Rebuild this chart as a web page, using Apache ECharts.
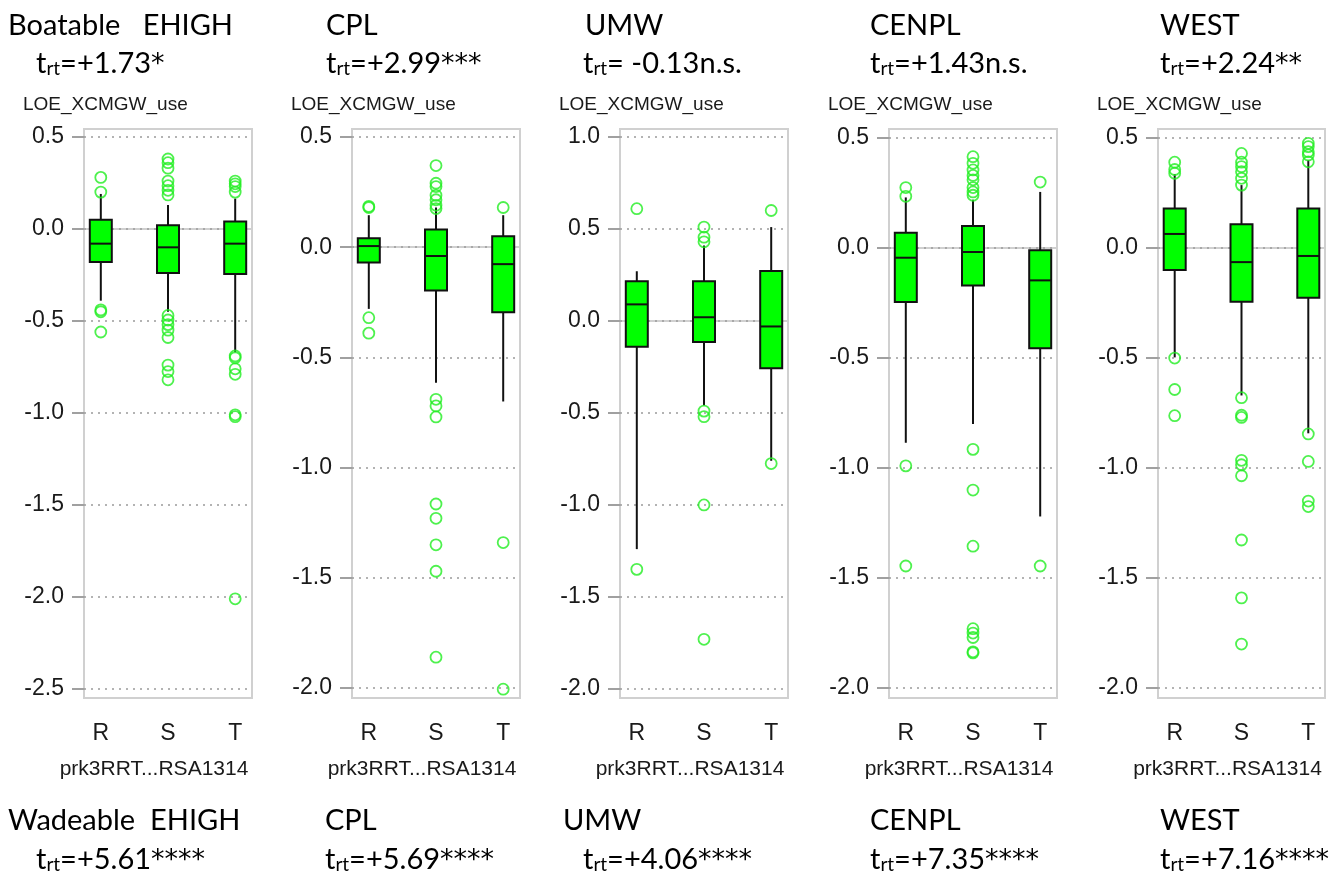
<!DOCTYPE html>
<html><head><meta charset="utf-8">
<script src="https://cdn.jsdelivr.net/npm/echarts@6/dist/echarts.min.js"></script>
<style>html,body{margin:0;padding:0;background:#fff}#c{width:1343px;height:873px}</style>
</head><body><div id="c"></div>
<script>
// ---------------- data ----------------
const categories = ['R', 'S', 'T'];
const panelNames = ['EHIGH', 'CPL', 'UMW', 'CENPL', 'WEST'];
const boatableT = ['=+1.73', '=+2.99', '= -0.13n.s.', '=+1.43n.s.', '=+2.24'];
const boatableStars = ['*', '***', '', '', '**'];
const wadeableT = ['=+5.61', '=+5.69', '=+4.06', '=+7.35', '=+7.16'];
const wadeableStars = ['****', '****', '****', '****', '****'];
const yAxisName = 'LOE_XCMGW_use';
const xAxisName = 'prk3RRT...RSA1314';

// y tick labels per panel
const ticksEHIGH = [0.5, 0, -0.5, -1, -1.5, -2, -2.5];
const ticksCPL = [0.5, 0, -0.5, -1, -1.5, -2];
const ticksUMW = [1, 0.5, 0, -0.5, -1, -1.5, -2];
const ticksCENPL = [0.5, 0, -0.5, -1, -1.5, -2];
const ticksWEST = [0.5, 0, -0.5, -1, -1.5, -2];

// y axis ranges (frame)
const rangeEHIGH = [-2.549, 0.543];
const rangeCPL = [-2.045, 0.536];
const rangeUMW = [-2.049, 1.043];
const rangeCENPL = [-2.045, 0.541];
const rangeWEST = [-2.045, 0.541];

// boxes: [lower whisker, Q1, median, Q3, upper whisker] for R, S, T
const boxEHIGH = [[-0.39, -0.18, -0.08, 0.05, 0.19], [-0.45, -0.24, -0.10, 0.02, 0.13], [-0.67, -0.245, -0.08, 0.04, 0.165]];
const boxCPL = [[-0.28, -0.07, 0.005, 0.04, 0.145], [-0.615, -0.197, -0.04, 0.08, 0.18], [-0.70, -0.295, -0.077, 0.05, 0.145]];
const boxUMW = [[-1.24, -0.14, 0.09, 0.215, 0.27], [-0.46, -0.115, 0.02, 0.215, 0.41], [-0.76, -0.257, -0.03, 0.272, 0.51]];
const boxCENPL = [[-0.885, -0.245, -0.044, 0.07, 0.23], [-0.80, -0.17, -0.018, 0.10, 0.22], [-1.22, -0.455, -0.147, -0.01, 0.255]];
const boxWEST = [[-0.497, -0.10, 0.064, 0.18, 0.336], [-0.67, -0.244, -0.064, 0.108, 0.286], [-0.842, -0.226, -0.036, 0.18, 0.40]];

// outliers for R, S, T
const outEHIGH = [
  [0.28, 0.20, -0.44, -0.45, -0.56],
  [0.38, 0.36, 0.33, 0.26, 0.235, 0.21, 0.185, -0.47, -0.495, -0.52, -0.55, -0.59, -0.74, -0.775, -0.82],
  [0.26, 0.245, 0.23, 0.20, -0.69, -0.70, -0.76, -0.79, -1.01, -1.02, -2.01]
];
const outCPL = [
  [0.185, 0.18, -0.32, -0.39],
  [0.37, 0.29, 0.275, 0.235, 0.215, 0.19, 0.175, -0.69, -0.72, -0.77, -1.165, -1.23, -1.35, -1.47, -1.86],
  [0.18, -1.34, -2.005]
];
const outUMW = [
  [0.61, -1.35],
  [0.51, 0.455, 0.43, -0.49, -0.52, -1.0, -1.73],
  [0.60, -0.775]
];
const outCENPL = [
  [0.275, 0.235, -0.99, -1.445],
  [0.415, 0.385, 0.355, 0.33, 0.31, 0.275, 0.255, 0.24, -0.915, -1.10, -1.355, -1.73, -1.75, -1.77, -1.835, -1.84],
  [0.30, -1.445]
];
const outWEST = [
  [0.39, 0.357, 0.34, -0.50, -0.643, -0.762],
  [0.43, 0.39, 0.37, 0.347, 0.317, 0.286, -0.68, -0.76, -0.77, -0.965, -0.985, -1.035, -1.327, -1.59, -1.80],
  [0.476, 0.461, 0.438, 0.423, 0.392, -0.845, -0.97, -1.15, -1.175]
];

// ---------------- layout ----------------
const panels = [
  {ticks: ticksEHIGH, range: rangeEHIGH, box: boxEHIGH, out: outEHIGH},
  {ticks: ticksCPL, range: rangeCPL, box: boxCPL, out: outCPL},
  {ticks: ticksUMW, range: rangeUMW, box: boxUMW, out: outUMW},
  {ticks: ticksCENPL, range: rangeCENPL, box: boxCENPL, out: outCENPL},
  {ticks: ticksWEST, range: rangeWEST, box: boxWEST, out: outWEST}
];
const gridLeft = [84, 352, 620, 889, 1158];
const gridWidth = [168, 168, 168, 168, 167];
const gridTop = 129, gridHeight = 569;
const topRow1X = [8, 326, 585, 870, 1160];
const topRow2X = [36, 326, 583, 870, 1160];
const botRow1X = [8, 325, 563, 870, 1160];
const botRow2X = [36, 325, 583, 870, 1160];

const FONT = 'Liberation Sans, Arial, sans-serif';
const HFONT = 'Lato, Carlito, sans-serif';
const GREEN = '#00ff00';

function renderBox(params, api) {
  const x = api.value(0);
  const pLo = api.coord([x, api.value(1)]);
  const pQ1 = api.coord([x, api.value(2)]);
  const pMed = api.coord([x, api.value(3)]);
  const pQ3 = api.coord([x, api.value(4)]);
  const pHi = api.coord([x, api.value(5)]);
  const hw = 11;
  const ls = {stroke: '#111', lineWidth: 2};
  return {type: 'group', children: [
    {type: 'line', shape: {x1: pLo[0], y1: pLo[1], x2: pQ1[0], y2: pQ1[1]}, style: ls},
    {type: 'line', shape: {x1: pQ3[0], y1: pQ3[1], x2: pHi[0], y2: pHi[1]}, style: ls},
    {type: 'rect', shape: {x: pQ3[0] - hw, y: pQ3[1], width: 2 * hw, height: pQ1[1] - pQ3[1]},
      style: {fill: GREEN, stroke: '#111', lineWidth: 2}},
    {type: 'line', shape: {x1: pMed[0] - hw, y1: pMed[1], x2: pMed[0] + hw, y2: pMed[1]}, style: ls}
  ]};
}

const grids = [], xAxes = [], yAxes = [], series = [], graphics = [];
const rich = {
  n: {fontFamily: HFONT, fontSize: 29, lineHeight: 36, verticalAlign: 'bottom', fill: '#000'},
  a: {fontFamily: 'DejaVu Sans', fontSize: 27, lineHeight: 36, verticalAlign: 'bottom', fill: '#000'},
  s: {fontFamily: HFONT, fontSize: 19, lineHeight: 19, verticalAlign: 'bottom', fill: '#000'}
};
function tText(val, stars) {
  return '{n|t}{s|rt}{n|' + val + '}' + (stars ? '{a|' + stars + '}' : '');
}

panels.forEach((p, i) => {
  grids.push({left: gridLeft[i], width: gridWidth[i], top: gridTop, height: gridHeight,
    show: true, borderColor: '#d0d0d0', borderWidth: 2, backgroundColor: 'transparent'});
  xAxes.push({
    gridIndex: i, type: 'value', min: 0.75, max: 3.25,
    axisLine: {show: true, lineStyle: {color: '#d0d0d0', width: 2}},
    axisTick: {show: true, customValues: [1, 2, 3], length: 9, lineStyle: {color: '#a0a0a0', width: 2}},
    axisLabel: {customValues: [1, 2, 3], formatter: v => categories[Math.round(v) - 1],
      fontSize: 23, fontFamily: FONT, color: '#1a1a1a', margin: 24},
    splitLine: {show: false},
    name: xAxisName, nameLocation: 'middle', nameGap: 61,
    nameTextStyle: {fontSize: 21, fontFamily: FONT, color: '#1a1a1a', padding: [0, 28, 0, 0]}
  });
  yAxes.push({
    gridIndex: i, type: 'value', min: p.range[0], max: p.range[1],
    axisLine: {show: true, lineStyle: {color: '#d0d0d0', width: 2}},
    axisTick: {show: true, customValues: p.ticks, length: 12, lineStyle: {color: '#a0a0a0', width: 2}},
    axisLabel: {customValues: p.ticks, formatter: v => v.toFixed(1),
      fontSize: 23, fontFamily: FONT, color: '#1a1a1a', margin: 20},
    splitLine: {show: false}
  });
  series.push({
    type: 'custom', xAxisIndex: i, yAxisIndex: i, z: 2,
    data: p.box.map((b, k) => [k + 1].concat(b)),
    encode: {x: 0, y: [1, 2, 3, 4, 5]},
    renderItem: renderBox,
    markLine: {
      silent: true, symbol: 'none', z: 1, label: {show: false},
      lineStyle: {color: '#9a9a9a', type: [2, 5], width: 1.6},
      data: p.ticks.map(v => ({yAxis: v}))
    }
  });
  series.push({
    type: 'scatter', xAxisIndex: i, yAxisIndex: i, z: 3,
    data: p.out.flatMap((arr, k) => arr.map(v => [k + 1, v])),
    symbol: 'circle', symbolSize: 11,
    itemStyle: {color: 'rgba(0,0,0,0)', borderColor: '#22ee22', borderWidth: 1.8}
  });

  // y axis name
  graphics.push({type: 'text', x: gridLeft[i] - 61, y: 105,
    style: {text: yAxisName, font: '19px ' + FONT, fill: '#1a1a1a', align: 'left', verticalAlign: 'middle'}});

  const name1 = i === 0 ? 'Boatable   ' + panelNames[i] : panelNames[i];
  const name2 = i === 0 ? 'Wadeable  ' + panelNames[i] : panelNames[i];
  graphics.push({type: 'text', x: topRow1X[i], y: 22,
    style: {text: '{n|' + name1 + '}', rich, align: 'left', verticalAlign: 'middle'}});
  graphics.push({type: 'text', x: topRow2X[i], y: 60,
    style: {text: tText(boatableT[i], boatableStars[i]), rich, align: 'left', verticalAlign: 'middle'}});
  graphics.push({type: 'text', x: botRow1X[i], y: 817,
    style: {text: '{n|' + name2 + '}', rich, align: 'left', verticalAlign: 'middle'}});
  graphics.push({type: 'text', x: botRow2X[i], y: 856,
    style: {text: tText(wadeableT[i], wadeableStars[i]), rich, align: 'left', verticalAlign: 'middle'}});
});

const chart = echarts.init(document.getElementById('c'), null, {renderer: 'canvas'});
chart.setOption({
  backgroundColor: '#ffffff',
  animation: false,
  grid: grids, xAxis: xAxes, yAxis: yAxes, series: series,
  graphic: {elements: graphics}
});
</script></body></html>
